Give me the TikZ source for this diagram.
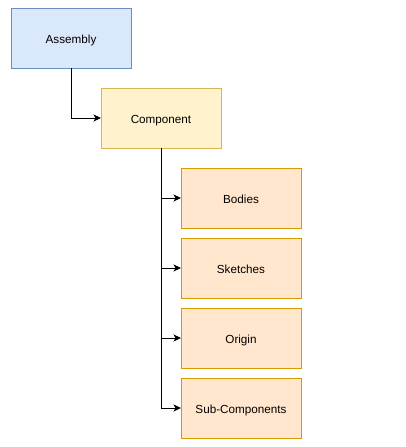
\documentclass[tikz,border=0pt]{standalone}
\usepackage{fontspec}
\setmainfont{Liberation Sans}
\usetikzlibrary{arrows.meta}
\definecolor{asmfill}{HTML}{DAE8FC}
\definecolor{asmline}{HTML}{6C8EBF}
\definecolor{cmpfill}{HTML}{FFF2CC}
\definecolor{cmpline}{HTML}{D6B656}
\definecolor{partfill}{HTML}{FFE6CC}
\definecolor{partline}{HTML}{D79B00}
\tikzset{
  box/.style={draw, line width=0.8pt, minimum width=120pt, minimum height=60pt,
    inner sep=0pt, outer sep=0pt, text height=10pt, text depth=0pt,
    font=\fontsize{11.7}{14}\selectfont},
  link/.style={draw, line width=0.8pt, -{Stealth[length=7.5pt,width=7pt,inset=2pt]}}
}
\begin{document}
\begin{tikzpicture}[x=1pt, y=-1pt]

\useasboundingbox (0,0) rectangle (406,447);

\node[box, fill=asmfill, draw=asmline] (assembly) at (71,38) {Assembly};
\node[box, fill=cmpfill, draw=cmpline] (component) at (161,118) {Component};

\draw[link] (assembly.south) |- (component.west);

\foreach \name/\label [count=\i] in {bodies/Bodies, sketches/Sketches, origin/Origin, subcomp/Sub-Components}
{
\node[box, fill=partfill, draw=partline] (\name) at (241,128+70*\i) {\label};
\draw[link] (component.south) |- (\name.west);
}

\end{tikzpicture}
\end{document}
